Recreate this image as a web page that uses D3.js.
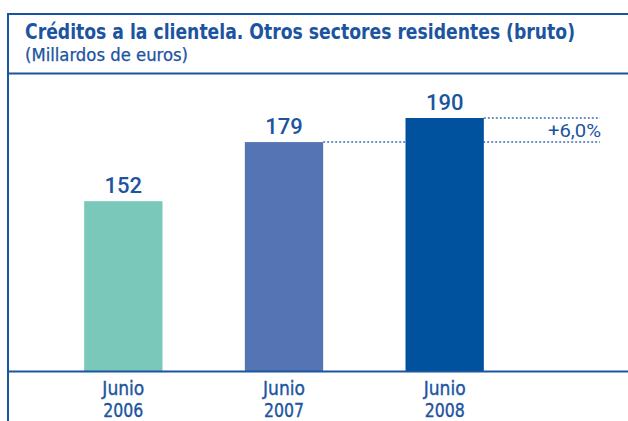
<!DOCTYPE html>
<html>
<head>
<meta charset="utf-8">
<script src="https://cdn.jsdelivr.net/npm/d3@7"></script>
<style>
  html, body { margin: 0; padding: 0; background: #fff; }
  svg { display: block; }
</style>
</head>
<body>
<svg id="chart" width="628" height="421"></svg>
<script>
// ---- data ----
const categories = ["Junio 2006", "Junio 2007", "Junio 2008"];
const values = [152, 179, 190];
const valueLabels = ["152", "179", "190"];
const barColors = ["#79c8b9", "#5574b3", "#00529f"];
const changeLabel = "+6,0%";
const title = "Créditos a la clientela. Otros sectores residentes (bruto)";
const subtitle = "(Millardos de euros)";

// ---- layout ----
const W = 628, H = 421;
const frameX = 8, frameTop = 14, headerBottom = 73.5, baseY = 371.5;
const blue = "#1a56a0";
const textBlue = "#1c54a0";
const condensed = "'Liberation Sans Narrow','DejaVu Sans Condensed','Open Sans',sans-serif";

const svg = d3.select("#chart");

const x = d3.scaleBand().domain(categories).range([44, 524]).paddingInner(0.5125).paddingOuter(0.25);
const y = d3.scaleLinear().domain([74.2, 190]).range([baseY, 118]);

function fit(sel, w) {
  sel.attr("textLength", w).attr("lengthAdjust", "spacingAndGlyphs");
}

// frame
svg.append("line").attr("x1", frameX).attr("x2", W).attr("y1", frameTop).attr("y2", frameTop)
  .attr("stroke", blue).attr("stroke-width", 2);
svg.append("line").attr("x1", frameX).attr("x2", W).attr("y1", headerBottom).attr("y2", headerBottom)
  .attr("stroke", blue).attr("stroke-width", 2);
svg.append("line").attr("x1", frameX).attr("x2", frameX).attr("y1", frameTop - 1).attr("y2", H)
  .attr("stroke", blue).attr("stroke-width", 2);

// title
svg.append("text").attr("x", 25).attr("y", 38.5)
  .attr("font-family", condensed)
  .attr("font-weight", "bold").attr("font-size", 21).attr("fill", textBlue)
  .text(title).call(fit, 550);
svg.append("text").attr("x", 25).attr("y", 60.5)
  .attr("font-family", condensed)
  .attr("font-size", 17).attr("fill", textBlue)
  .attr("stroke", textBlue).attr("stroke-width", 0.25)
  .text(subtitle).call(fit, 163);

// dotted reference lines
const bw = x.bandwidth();
svg.append("line")
  .attr("x1", x(categories[1]) + bw).attr("x2", 600)
  .attr("y1", y(values[1])).attr("y2", y(values[1]))
  .attr("stroke", "#3d72b8").attr("stroke-width", 1.5).attr("stroke-dasharray", "2,2");
svg.append("line")
  .attr("x1", x(categories[2]) + bw).attr("x2", 600)
  .attr("y1", y(values[2])).attr("y2", y(values[2]))
  .attr("stroke", "#3d72b8").attr("stroke-width", 1.5).attr("stroke-dasharray", "2,2");

// bars
svg.selectAll("rect.bar").data(values).join("rect").attr("class", "bar")
  .attr("x", (d, i) => x(categories[i]))
  .attr("width", bw)
  .attr("y", d => y(d))
  .attr("height", d => baseY - y(d))
  .attr("fill", (d, i) => barColors[i]);

// value labels
svg.selectAll("text.val").data(values).join("text").attr("class", "val")
  .attr("x", (d, i) => x(categories[i]) + bw / 2)
  .attr("y", d => y(d) - 8)
  .attr("text-anchor", "middle")
  .attr("font-family", "Roboto, 'Open Sans', sans-serif")
  .attr("font-weight", 500).attr("font-size", 22).attr("fill", textBlue)
  .text((d, i) => valueLabels[i]);

// change label
svg.append("text").attr("x", 601).attr("y", 137).attr("text-anchor", "end")
  .attr("font-family", "Roboto, 'Open Sans', sans-serif")
  .attr("font-size", 19).attr("fill", textBlue)
  .text(changeLabel).call(fit, 53);

// axis
const axis = d3.axisBottom(x).tickSize(0).tickFormat(() => "");
const gAxis = svg.append("g").attr("transform", `translate(0,${baseY})`).call(axis);
gAxis.select(".domain").remove();
svg.append("line").attr("x1", frameX).attr("x2", W).attr("y1", baseY).attr("y2", baseY)
  .attr("stroke", blue).attr("stroke-width", 2);
gAxis.selectAll(".tick").each(function(d) {
  const parts = d.split(" ");
  const t = d3.select(this);
  t.selectAll("text").remove();
  t.append("text").attr("y", 23).attr("text-anchor", "middle")
    .attr("font-family", condensed)
    .attr("font-size", 19.5).attr("fill", textBlue)
    .attr("stroke", textBlue).attr("stroke-width", 0.35)
    .text(parts[0]).call(fit, 42);
  t.append("text").attr("y", 45).attr("text-anchor", "middle")
    .attr("font-family", condensed)
    .attr("font-size", 19.5).attr("fill", textBlue)
    .attr("stroke", textBlue).attr("stroke-width", 0.35)
    .text(parts[1]).call(fit, 40);
});
</script>
</body>
</html>
